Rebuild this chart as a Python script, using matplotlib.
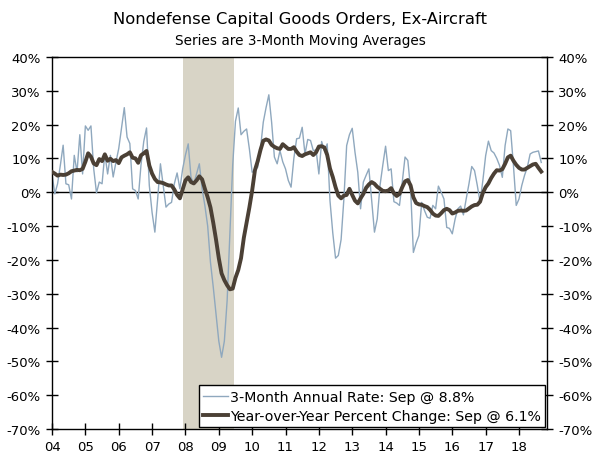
import matplotlib
matplotlib.use("Agg")
import matplotlib.pyplot as plt
import numpy as np

plt.rcParams['font.family'] = ['DejaVu Sans']

title = "Nondefense Capital Goods Orders, Ex-Aircraft"
subtitle = "Series are 3-Month Moving Averages"
label_3m = "3-Month Annual Rate: Sep @ 8.8%"
label_yoy = "Year-over-Year Percent Change: Sep @ 6.1%"

start_year = 2004
year_ticks = list(range(2004, 2019))
year_labels = [f"{y % 100:02d}" for y in year_ticks]
y_ticks = list(range(-70, 41, 10))
recession = (2007 + 11 / 12, 2009 + 5.5 / 12)

three_month = [
    5.4, -0.5, 2.5, 8.0, 13.9, 2.5, 2.2, -2.0, 10.9, 6.0, 17.0, 5.4,        # 2004
    19.6, 18.3, 19.6, 6.9, -0.2, 3.0, 2.5, 11.4, 5.4, 10.9, 4.5, 8.9,       # 2005
    12.9, 19.0, 25.0, 16.3, 14.4, 1.0, 0.5, -2.0, 8.0, 15.0, 19.0, 2.0,     # 2006
    -6.0, -11.8, -2.0, 8.4, 2.0, -4.4, -3.5, -3.0, 2.5, 5.7, 1.0, 6.9,      # 2007
    11.0, 14.3, 4.4, 2.5, 5.5, 8.4, 1.0, -4.0, -10.0, -20.7, -28.0, -36.0,  # 2008
    -44.0, -48.8, -44.0, -32.0, -12.0, 8.0, 21.0, 24.9, 17.0, 18.0, 18.7, 12.8,  # 2009
    5.9, 6.5, 7.4, 13.0, 20.7, 25.0, 28.8, 20.7, 10.4, 8.4, 12.3, 9.0,      # 2010
    6.9, 3.5, 1.5, 10.0, 15.8, 16.0, 19.2, 11.3, 15.6, 15.3, 12.3, 12.5,    # 2011
    5.4, 15.0, 12.3, 14.3, -2.5, -12.0, -19.5, -18.7, -14.0, -2.0, 13.8, 17.0,  # 2012
    18.9, 11.8, 5.9, -4.9, 3.0, 5.0, 6.9, -2.5, -11.8, -7.9, 2.0, 8.0,      # 2013
    13.6, 6.4, 6.9, -2.8, -3.2, -3.9, 3.0, 10.4, 9.4, 1.0, -17.8, -15.0,    # 2014
    -12.8, -3.0, -5.4, -7.4, -7.7, -3.9, -4.9, 1.8, 0.0, -2.0, -10.4, -10.7,  # 2015
    -12.3, -8.0, -4.9, -4.1, -6.7, -2.0, 2.5, 7.6, 6.4, 2.0, -3.0, 3.5,     # 2016
    10.8, 15.1, 12.3, 11.6, 10.0, 7.9, 4.4, 13.8, 18.7, 18.2, 7.9, -3.9,    # 2017
    -2.0, 2.0, 5.0, 7.4, 11.3, 11.8, 12.0, 12.2, 8.8,                       # 2018
]

yoy = [
    6.0, 5.5, 4.9, 5.2, 5.1, 5.2, 5.6, 6.2, 6.4, 6.6, 6.5, 6.9,             # 2004
    9.0, 11.5, 10.5, 8.5, 8.0, 9.8, 9.2, 11.2, 9.3, 9.9, 9.2, 9.5,          # 2005
    8.6, 10.3, 10.8, 11.2, 11.8, 10.2, 10.0, 8.7, 10.9, 11.5, 12.2, 7.9,    # 2006
    5.5, 3.9, 3.0, 2.9, 2.7, 2.3, 2.0, 2.0, 0.8, -0.8, -1.8, 0.8,           # 2007
    3.5, 4.4, 3.0, 2.6, 3.5, 4.7, 3.8, 1.0, -1.5, -4.5, -9.0, -14.0,        # 2008
    -19.5, -24.0, -26.0, -27.5, -28.7, -28.5, -25.3, -23.0, -19.5, -13.5, -9.0, -4.5,  # 2009
    0.5, 6.5, 9.2, 12.5, 15.2, 15.6, 15.3, 14.0, 13.4, 13.0, 12.8, 14.2,    # 2010
    13.5, 12.8, 12.8, 13.3, 12.0, 11.0, 10.7, 11.2, 11.5, 11.8, 11.0, 11.8,  # 2011
    13.5, 13.6, 13.2, 11.0, 7.0, 4.5, 1.5, -1.0, -1.8, -1.0, -0.8, 1.0,     # 2012
    -0.8, -2.5, -3.3, -1.8, -0.5, 1.3, 2.3, 3.0, 2.5, 1.6, 1.0, 0.4,        # 2013
    0.3, 0.5, 1.2, -0.3, -1.1, -0.5, 1.5, 3.2, 3.6, 2.0, -1.5, -3.2,        # 2014
    -3.6, -3.7, -4.1, -4.4, -5.2, -6.3, -6.9, -7.0, -6.2, -5.3, -4.9, -5.3,  # 2015
    -6.3, -6.0, -5.5, -5.4, -5.5, -5.4, -4.8, -4.2, -3.8, -3.7, -2.8, -0.2,  # 2016
    1.5, 2.6, 4.2, 5.5, 6.5, 6.4, 6.8, 8.4, 10.3, 10.8, 9.3, 8.1,           # 2017
    7.2, 6.7, 6.7, 7.2, 7.7, 8.2, 8.4, 7.2, 6.1,                            # 2018
]

x = start_year + np.arange(len(yoy)) / 12.0

fig = plt.figure(figsize=(6.0, 4.56), dpi=100)
ax = fig.add_axes([0.0867, 0.057, 0.825, 0.816])

ax.axvspan(recession[0], recession[1], color='#D8D4C6', lw=0, zorder=0)
ax.axhline(0, color='black', lw=1.0, zorder=1)
ax.plot(x, three_month, color='#8FA8BE', lw=1.0, zorder=2, label=label_3m)
ax.plot(x, yoy, color='#4B4035', lw=2.8, zorder=3, label=label_yoy)

ax.set_xlim(2004.0, 2018.84)
ax.set_ylim(-70, 40)
ax.set_xticks(year_ticks)
ax.set_xticklabels(year_labels)
ax.set_yticks(y_ticks)
ax.set_yticklabels([f"{v}%" for v in y_ticks])
ax.tick_params(axis='both', direction='inout', length=8, width=1, labelsize=9.5, colors='black')
ax.tick_params(axis='y', right=True, labelright=True, pad=4)
ax.tick_params(axis='x', pad=4)
for s in ax.spines.values():
    s.set_linewidth(1.0)
    s.set_color('black')

leg = ax.legend(loc='lower right', bbox_to_anchor=(1.0, 0.0), fontsize=10.2, frameon=True,
                fancybox=False, edgecolor='black', framealpha=1.0, handlelength=1.8,
                handletextpad=0.1, borderpad=0.3, labelspacing=0.35, borderaxespad=0.15)
leg.get_frame().set_linewidth(1.0)

fig.text(0.5, 0.958, title, ha='center', va='center', fontsize=11.8)
fig.text(0.5, 0.91, subtitle, ha='center', va='center', fontsize=9.8)

fig.savefig("out.png", dpi=100)
